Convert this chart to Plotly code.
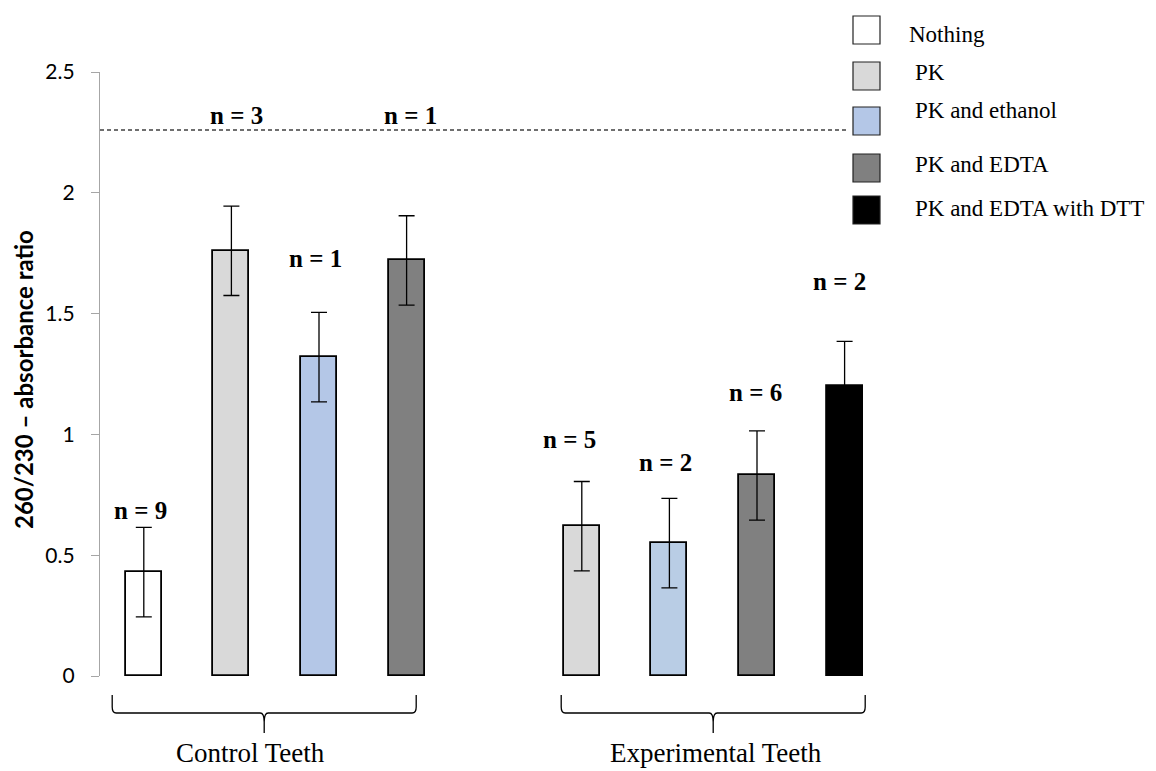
import plotly.graph_objects as go

# ---- data -------------------------------------------------------------
treatments = ["Nothing", "PK", "PK and ethanol", "PK and EDTA", "PK and EDTA with DTT"]
treatment_colors = ["#FFFFFF", "#D9D9D9", "#B4C7E7", "#808080", "#000000"]

control_treatments = ["Nothing", "PK", "PK and ethanol", "PK and EDTA"]
control_means = [0.43, 1.76, 1.32, 1.72]
control_errors = [0.185, 0.185, 0.185, 0.185]
control_n = [9, 3, 1, 1]

experimental_treatments = ["PK", "PK and ethanol", "PK and EDTA", "PK and EDTA with DTT"]
experimental_means = [0.62, 0.55, 0.83, 1.20]
experimental_errors = [0.185, 0.185, 0.185, 0.185]
experimental_n = [5, 2, 6, 2]

group_names = ["Control Teeth", "Experimental Teeth"]
reference_ratio = 2.26

y_ticks = [0, 0.5, 1, 1.5, 2, 2.5]
y_tick_labels = ["0", "0.5", "1", "1.5", "2", "2.5"]

# ---- layout helpers ---------------------------------------------------
W, H = 1156, 771
PLOT_L, PLOT_R, PLOT_T, PLOT_B = 100, 976, 72, 676
SERIF = "Liberation Serif, Times New Roman, serif"


def px_x(px):
    return (px - PLOT_L) / (PLOT_R - PLOT_L)


def px_y(py):
    return (PLOT_B - py) / (PLOT_B - PLOT_T)


color_of = dict(zip(treatments, treatment_colors))

# control bars occupy slots 0-3, one empty slot, experimental slots 5-8
ctrl_x = list(range(len(control_treatments)))
exp_x = [len(control_treatments) + 1 + i for i in range(len(experimental_treatments))]

bar_x = ctrl_x + exp_x
bar_y = control_means + experimental_means
bar_err = control_errors + experimental_errors
bar_colors = [color_of[t] for t in control_treatments] + [color_of[t] for t in experimental_treatments]
# the experimental ethanol bar has a slightly lighter blue
bar_colors[len(control_treatments) + 1] = "#B9CDE5"
bar_n = control_n + experimental_n
bar_names = control_treatments + experimental_treatments

fig = go.Figure()
fig.add_trace(go.Bar(
    x=bar_x, y=bar_y, width=0.41,
    marker=dict(color=bar_colors, line=dict(color="#000000", width=1.8)),
    error_y=dict(type="data", array=bar_err, visible=True,
                 color="#000000", thickness=1.3, width=8),
    hovertext=bar_names, showlegend=False,
))

# sample-size labels (height of each label, in axis units, and pixel nudges)
label_heights = [0.687, 2.322, 1.730, 2.322, 0.977, 0.882, 1.172, 1.631]
label_nudges = [-3, 5, -4, 4, -12, -4, -2, -5]
annotations = []
for x, n, yl, dx in zip(bar_x, bar_n, label_heights, label_nudges):
    annotations.append(dict(
        x=x, y=yl, xref="x", yref="y", text=f"<b>n = {n}</b>",
        showarrow=False, xshift=dx, xanchor="center", yanchor="middle",
        font=dict(family=SERIF, size=25, color="#000000"),
    ))

# y-axis title
annotations.append(dict(
    x=px_x(24), y=px_y(380), xref="paper", yref="paper",
    text="<b>260/230 – absorbance ratio</b>", textangle=-90, showarrow=False,
    xanchor="center", yanchor="middle",
    font=dict(family="Lato", size=24, color="#000000"),
))

shapes = []
# reference line
shapes.append(dict(type="line", xref="paper", yref="y", x0=0, x1=1,
                   y0=reference_ratio, y1=reference_ratio,
                   line=dict(color="#404040", width=1.3, dash="4px,3px")))

# group braces under the bars: (slots, brace shift px, label shift px)
brace_groups = [
    (ctrl_x, -11, -14),
    (exp_x, 0, 3),
]
slot_px = (PLOT_R - PLOT_L) / 10.0
y_top, y_mid, y_tip = px_y(695), px_y(713), px_y(733)
y_bend = px_y(722)
for (xs, shift_px, text_px), gname in zip(brace_groups, group_names):
    xc = (xs[0] + xs[-1]) / 2 + shift_px / slot_px
    half = 152 / slot_px
    xl, xr = xc - half, xc + half
    d = 4 / slot_px
    path = (f"M {xl},{y_top} L {xl},{px_y(707)} Q {xl},{y_mid} {xl + d},{y_mid} "
            f"L {xc - d},{y_mid} Q {xc},{y_mid} {xc},{y_bend} L {xc},{y_tip} "
            f"M {xc},{y_bend} Q {xc},{y_mid} {xc + d},{y_mid} "
            f"L {xr - d},{y_mid} Q {xr},{y_mid} {xr},{px_y(707)} L {xr},{y_top}")
    shapes.append(dict(type="path", xref="x", yref="paper", path=path,
                       line=dict(color="#000000", width=1.3)))
    annotations.append(dict(
        x=xc, y=px_y(753), xref="x", yref="paper", text=gname, xshift=text_px,
        showarrow=False, xanchor="center", yanchor="middle",
        font=dict(family=SERIF, size=27, color="#000000"),
    ))

# legend panel (white backdrop over the reference line)
shapes.append(dict(type="rect", xref="paper", yref="paper",
                   x0=px_x(846), x1=px_x(1156), y0=px_y(232), y1=px_y(0),
                   fillcolor="#FFFFFF", line=dict(width=0), layer="above"))
legend_box_tops = [16, 62, 107, 154, 196]
legend_text_mid = [35, 73, 110, 165, 208]
legend_text_left = [907, 913, 913, 913, 913]
for name, col, top, mid, left in zip(treatments, treatment_colors,
                                     legend_box_tops, legend_text_mid, legend_text_left):
    shapes.append(dict(type="rect", xref="paper", yref="paper",
                       x0=px_x(853), x1=px_x(880), y0=px_y(top + 28), y1=px_y(top),
                       fillcolor=col, line=dict(color="#222222", width=1.2), layer="above"))
    annotations.append(dict(
        x=px_x(left), y=px_y(mid), xref="paper", yref="paper", text=name,
        showarrow=False, xanchor="left", yanchor="middle",
        font=dict(family=SERIF, size=23, color="#000000"),
    ))

fig.update_layout(
    width=W, height=H,
    margin=dict(l=PLOT_L, r=W - PLOT_R, t=PLOT_T, b=H - PLOT_B, autoexpand=False),
    paper_bgcolor="#FFFFFF", plot_bgcolor="#FFFFFF",
    xaxis=dict(range=[-0.5, 9.5], visible=False, fixedrange=True),
    yaxis=dict(range=[0, 2.5], tickvals=y_ticks, ticktext=y_tick_labels,
               showgrid=False, zeroline=False, showline=True,
               linecolor="#A6A6A6", linewidth=1.2,
               ticks="outside", ticklen=8, tickcolor="#A6A6A6", tickwidth=1.2,
               ticklabelstandoff=12,
               tickfont=dict(family="Lato", size=21, color="#000000")),
    shapes=shapes, annotations=annotations, bargap=0,
)

fig.write_html("out.html")
